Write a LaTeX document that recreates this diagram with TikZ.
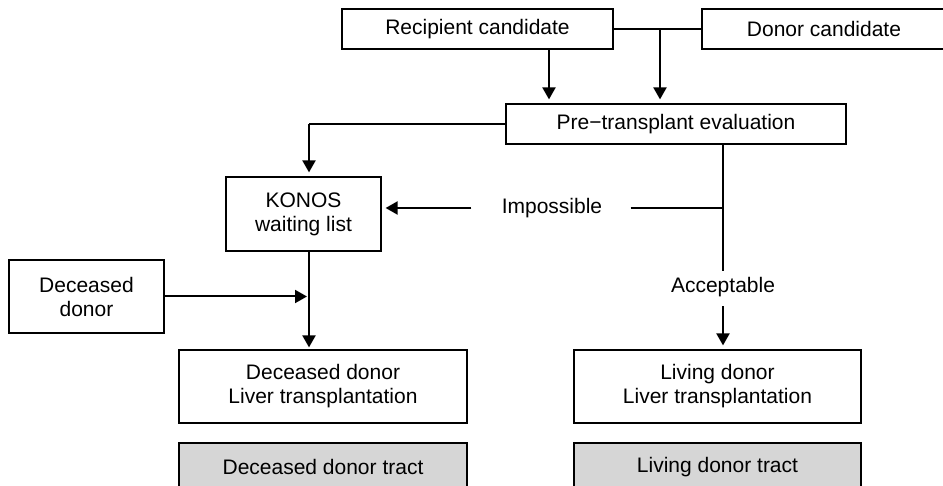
\documentclass[tikz,border=0pt]{standalone}
\usepackage{fontspec}
\setmainfont{Liberation Sans}
\usetikzlibrary{arrows.meta}
\definecolor{tractGray}{HTML}{D6D6D6}

\begin{document}
\begin{tikzpicture}
[x=1pt,y=-1pt,
  boxDecorate/.style={shape=rectangle,draw,line width=1.2pt,align=center,
    font=\fontsize{21}{24}\selectfont},
  tractDecorate/.style={boxDecorate,fill=tractGray},
  labelDecorate/.style={font=\fontsize{21}{24}\selectfont},
  arrowDecorate/.style={-{Triangle[length=12pt,width=13pt]},line width=2pt,shorten >=4pt},
  lineDecorate/.style={-,line width=1.2pt}]
%% frame
\path[use as bounding box,fill=white] (0,0) rectangle (943,486);
\clip (0,0) rectangle (943,486);
%% boxes
\foreach \nodename/\x/\y/\w/\h/\boxtext in {
  recip/477.5/29/271/40/Recipient candidate,
  donor/824/29/244/40/Donor candidate,
  preeval/676/124/340/40/Pre−transplant evaluation,
  konos/303.5/214/155/74/{KONOS\\waiting list},
  deceased/86.5/296.5/155/73/{Deceased\\donor},
  ddlt/323/386.5/288/73/{Deceased donor\\Liver transplantation},
  ldlt/717.5/386.5/287/73/{Living donor\\Liver transplantation}}
{
  \node (\nodename) at (\x,\y) [boxDecorate,minimum width=\w pt,minimum height=\h pt] {\boxtext};
}
\node (ddtract) at (323,467) [tractDecorate,minimum width=288pt,minimum height=48pt] {Deceased donor tract};
\node (ldtract) at (717.5,467) [tractDecorate,minimum width=287pt,minimum height=48pt] {Living donor tract};
%% labels
\node (impossible) at (552,208) [labelDecorate] {Impossible};
\node (acceptable) at (723,287) [labelDecorate] {Acceptable};
%% lanes
\coordinate (lane) at (309,0);
\coordinate (merge) at (660,0);
\coordinate (recipdrop) at (549,0);
%% edges or lines
\draw[lineDecorate] (recip.east) -- (donor.west);
\draw[arrowDecorate] (merge |- recip.east) -- (merge |- preeval.north);
\draw[arrowDecorate] (recipdrop |- recip.south) -- (recipdrop |- preeval.north);
\draw[lineDecorate] (preeval.west) -- (lane |- preeval.west);
\draw[arrowDecorate] (lane |- preeval.west) -- (lane |- konos.north);
\draw[lineDecorate,shorten >=3pt] (acceptable.north |- preeval.south) -- (acceptable.north);
\draw[lineDecorate,shorten <=25pt] (impossible.east) -- (acceptable.north |- impossible.east);
\draw[arrowDecorate,shorten <=27pt] (impossible.west) -- (konos.east |- impossible.west);
\draw[arrowDecorate,shorten <=6pt] (acceptable.south) -- (acceptable.south |- ldlt.north);
\draw[arrowDecorate,shorten >=2pt] (deceased.east) -- (lane |- deceased.east);
\draw[arrowDecorate,shorten >=2pt] (lane |- konos.south) -- (lane |- ddlt.north);
\end{tikzpicture}
\end{document}
